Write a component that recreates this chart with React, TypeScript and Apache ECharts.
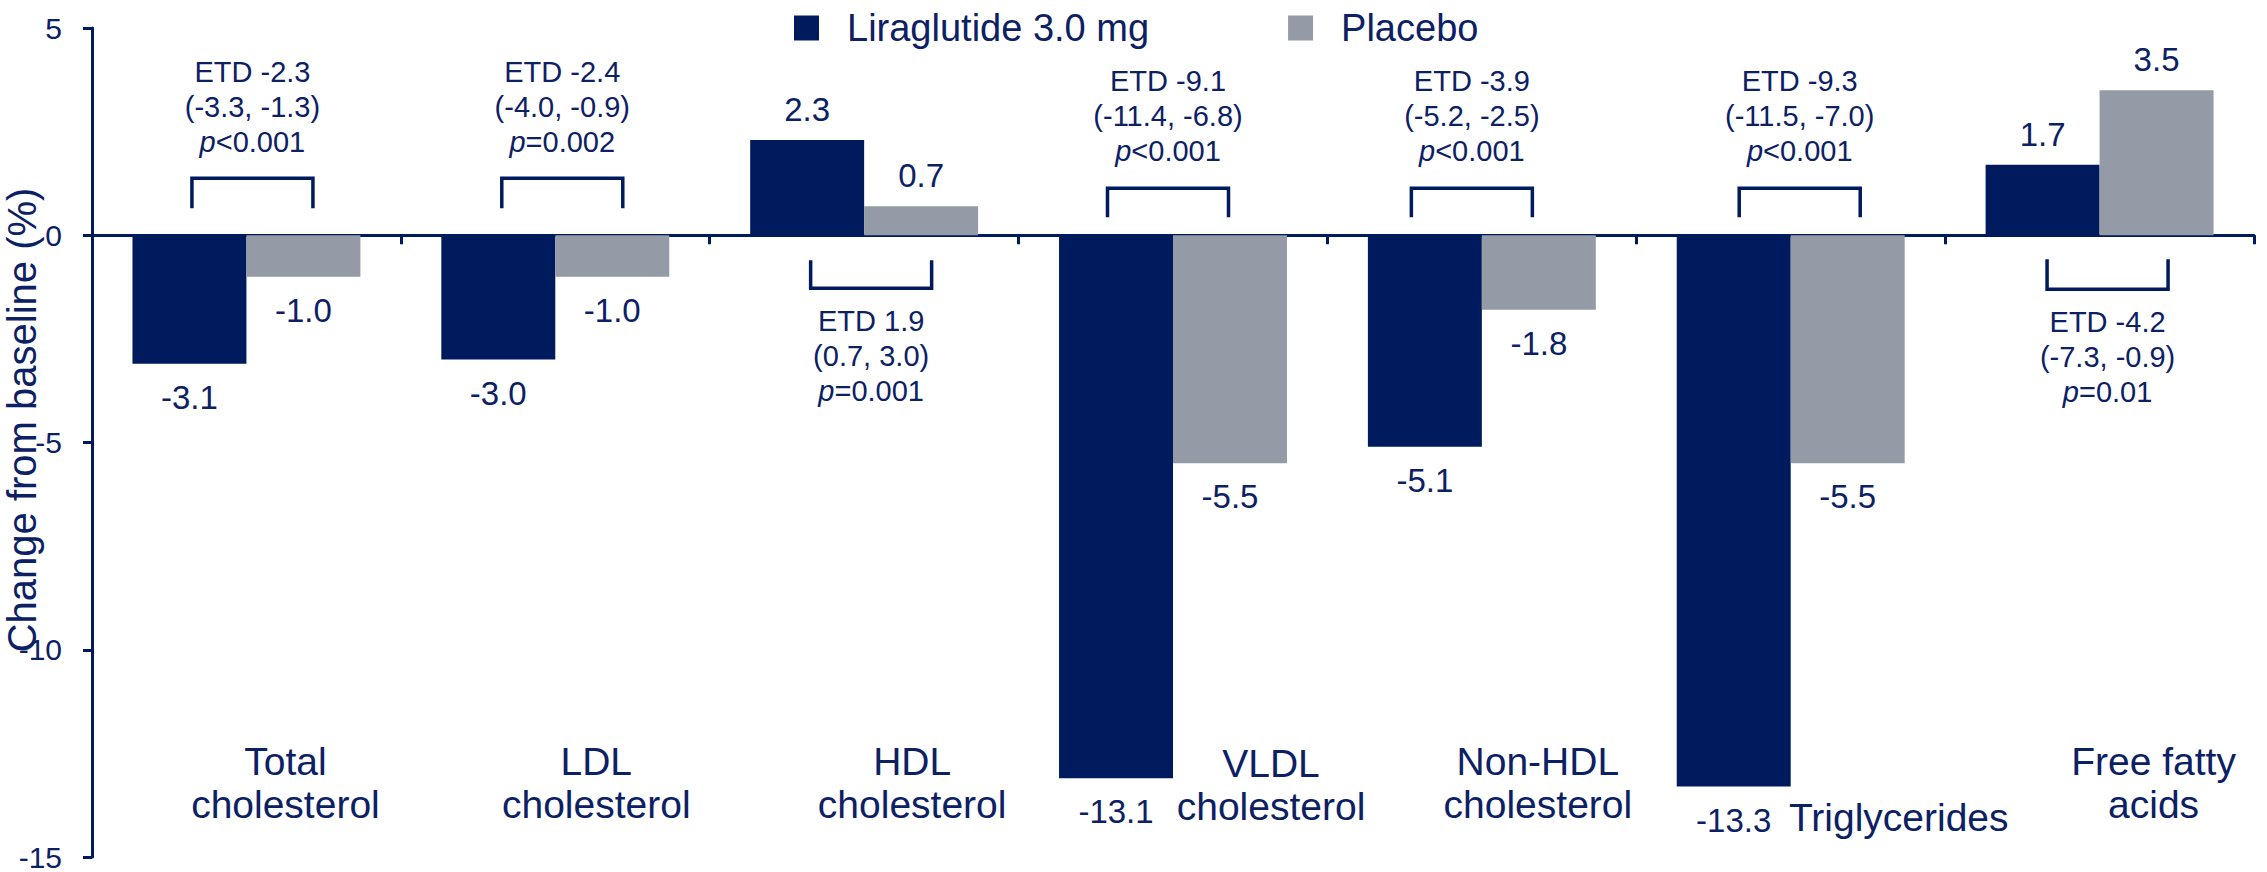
import React, { useEffect, useRef } from "react";
import * as echarts from "echarts";

// ---------- data ----------
const categories = [
  "Total\ncholesterol",
  "LDL\ncholesterol",
  "HDL\ncholesterol",
  "VLDL\ncholesterol",
  "Non-HDL\ncholesterol",
  "Triglycerides",
  "Free fatty\nacids",
];
const seriesNames = ["Liraglutide 3.0 mg", "Placebo"];
const liraglutide = [-3.1, -3.0, 2.3, -13.1, -5.1, -13.3, 1.7];
const placebo = [-1.0, -1.0, 0.7, -5.5, -1.8, -5.5, 3.5];
const etdEstimates = ["ETD -2.3", "ETD -2.4", "ETD 1.9", "ETD -9.1", "ETD -3.9", "ETD -9.3", "ETD -4.2"];
const etdCIs = ["(-3.3, -1.3)", "(-4.0, -0.9)", "(0.7, 3.0)", "(-11.4, -6.8)", "(-5.2, -2.5)", "(-11.5, -7.0)", "(-7.3, -0.9)"];
const pValues = ["<0.001", "=0.002", "=0.001", "<0.001", "<0.001", "<0.001", "=0.01"];
const yMin = -15;
const yMax = 5;
const yInterval = 5;
const yTitle = "Change from baseline (%)";

// ---------- layout / style ----------
const NAVY = "#001a5e";
const GRAY = "#959ba6";
const TEXT = "#0c2064";
const FONT = "'Liberation Sans', Arial, sans-serif";

// px offsets: dx = bracket centre relative to category centre; y's relative to zero line
const etdLayout = [
  { dx: 6, legEnd: -27, bar: -57, text: -128 },
  { dx: 7, legEnd: -27, bar: -57, text: -128 },
  { dx: 7, legEnd: 25, bar: 53, text: 121 },
  { dx: -5, legEnd: -18, bar: -47, text: -119 },
  { dx: -10, legEnd: -18, bar: -47, text: -119 },
  { dx: 9, legEnd: -18, bar: -47, text: -119 },
  { dx: 8, legEnd: 24, bar: 54, text: 122 },
];
const BRACKET_HALF = 60.5;
// [x offset from category centre, y offset from bottom of plot]
const catLabelLayout = [
  [39, -74],
  [41, -74],
  [48, -74],
  [98, -72],
  [56, -74],
  [108, -40],
  [54, -74],
];

export default function App() {
  const ref = useRef<HTMLDivElement>(null);

  useEffect(() => {
    if (!ref.current) return;
    const chart = echarts.init(ref.current, undefined, { renderer: "svg" });

    const valueLabel = (v: number) => ({
      value: v,
      label: {
        position: v < 0 ? "bottom" : "top",
        distance: v < 0 ? 17 : 14,
      },
    });

    const labelStyle = {
      show: true,
      fontSize: 33,
      color: TEXT,
      fontFamily: FONT,
      formatter: (p: any) => Number(p.value).toFixed(1),
    };

    const option: any = {
      animation: false,
      backgroundColor: "#ffffff",
      textStyle: { fontFamily: FONT },
      grid: { left: 92, right: 13, top: 28, bottom: 15, containLabel: false },
      legend: {
        data: seriesNames,
        left: 789,
        top: 4,
        icon: "rect",
        itemWidth: 25,
        itemHeight: 25,
        itemGap: 139,
        textStyle: { fontSize: 38, color: TEXT, fontFamily: FONT, padding: [0, 0, 0, 23] },
      },
      xAxis: {
        type: "category",
        data: categories,
        axisLine: { onZero: true, lineStyle: { color: NAVY, width: 3 } },
        axisTick: { show: true, length: 9, lineStyle: { color: NAVY, width: 3 } },
        axisLabel: { show: false },
        splitLine: { show: false },
      },
      yAxis: {
        type: "value",
        min: yMin,
        max: yMax,
        interval: yInterval,
        axisLine: { show: true, lineStyle: { color: NAVY, width: 3 } },
        axisTick: { show: true, length: 9, lineStyle: { color: NAVY, width: 3 } },
        axisLabel: { fontSize: 30, color: TEXT, fontFamily: FONT, margin: 30 },
        splitLine: { show: false },
      },
      graphic: [
        {
          type: "text",
          x: 22,
          y: 420,
          rotation: Math.PI / 2,
          z: 100,
          style: {
            text: yTitle,
            fontSize: 40,
            fontFamily: FONT,
            fill: TEXT,
            align: "center",
            verticalAlign: "middle",
          },
        },
      ],
      series: [
        {
          name: seriesNames[0],
          type: "bar",
          data: liraglutide.map(valueLabel),
          barWidth: "36.9%",
          barGap: "0%",
          itemStyle: { color: NAVY },
          label: labelStyle,
        },
        {
          name: seriesNames[1],
          type: "bar",
          data: placebo.map(valueLabel),
          barWidth: "36.9%",
          barGap: "0%",
          itemStyle: { color: GRAY },
          label: labelStyle,
        },
        {
          name: "etd",
          type: "custom",
          silent: true,
          clip: false,
          data: categories.map((_, i) => [i, 0]),
          renderItem: (params: any, api: any) => {
            const i = api.value(0);
            const c = api.coord([i, 0]);
            const L = etdLayout[i];
            const cx = c[0] + L.dx;
            const cy = c[1];
            return {
              type: "group",
              children: [
                {
                  type: "polyline",
                  shape: {
                    points: [
                      [cx - BRACKET_HALF, cy + L.legEnd],
                      [cx - BRACKET_HALF, cy + L.bar],
                      [cx + BRACKET_HALF, cy + L.bar],
                      [cx + BRACKET_HALF, cy + L.legEnd],
                    ],
                  },
                  style: { stroke: NAVY, lineWidth: 3.5, fill: null },
                },
                {
                  type: "text",
                  x: cx,
                  y: cy + L.text,
                  style: {
                    text: etdEstimates[i] + "\n" + etdCIs[i] + "\n{i|p}" + pValues[i],
                    fontSize: 29,
                    fontFamily: FONT,
                    fill: TEXT,
                    align: "center",
                    verticalAlign: "middle",
                    lineHeight: 35,
                    rich: {
                      i: { fontStyle: "italic", fontSize: 29, fontFamily: FONT, fill: TEXT, lineHeight: 35 },
                    },
                  },
                },
              ],
            };
          },
        },
        {
          name: "catLabels",
          type: "custom",
          silent: true,
          clip: false,
          data: categories.map((_, i) => [i, yMin]),
          renderItem: (params: any, api: any) => {
            const i = api.value(0);
            const c = api.coord([i, yMin]);
            const off = catLabelLayout[i];
            return {
              type: "text",
              x: c[0] + off[0],
              y: c[1] + off[1],
              style: {
                text: categories[i],
                fontSize: 39,
                fontFamily: FONT,
                fill: TEXT,
                align: "center",
                verticalAlign: "middle",
                lineHeight: 43,
              },
            };
          },
        },
      ],
    };

    chart.setOption(option);
    return () => chart.dispose();
  }, []);

  return (
    <div
      ref={ref}
      style={{ position: "fixed", left: 0, top: 0, width: 2267, height: 872, background: "#fff" }}
    />
  );
}
